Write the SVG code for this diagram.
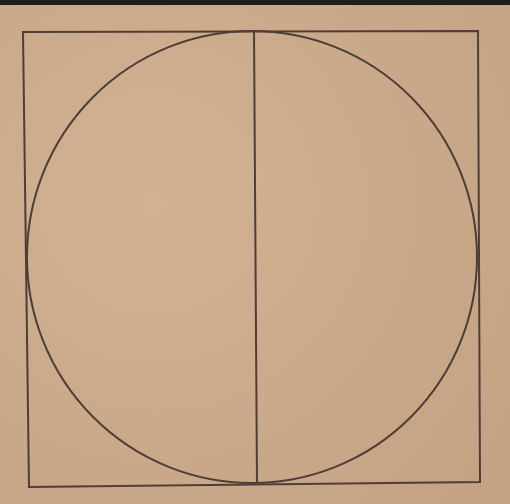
<svg xmlns="http://www.w3.org/2000/svg" width="510" height="504" viewBox="0 0 510 504">
<defs>
<radialGradient id="bg" cx="0.3" cy="0.4" r="0.9">
<stop offset="0" stop-color="#d2b292"/>
<stop offset="1" stop-color="#c3a283"/>
</radialGradient>
<style>
.ln{fill:none;stroke:#4e3e38;stroke-width:2}
</style>
</defs>
<rect x="0" y="0" width="510" height="504" fill="url(#bg)"/>
<rect x="0" y="0" width="510" height="5" fill="#201d1f"/>
<g id="square"><polygon class="ln" points="23,32 478,31 480,482 29,487"/></g>
<g id="circle"><ellipse class="ln" cx="252" cy="257" rx="225" ry="226" stroke-width="1.6"/></g>
<g id="connectors"><line class="ln" x1="254" y1="31" x2="257" y2="484"/></g>
</svg>
